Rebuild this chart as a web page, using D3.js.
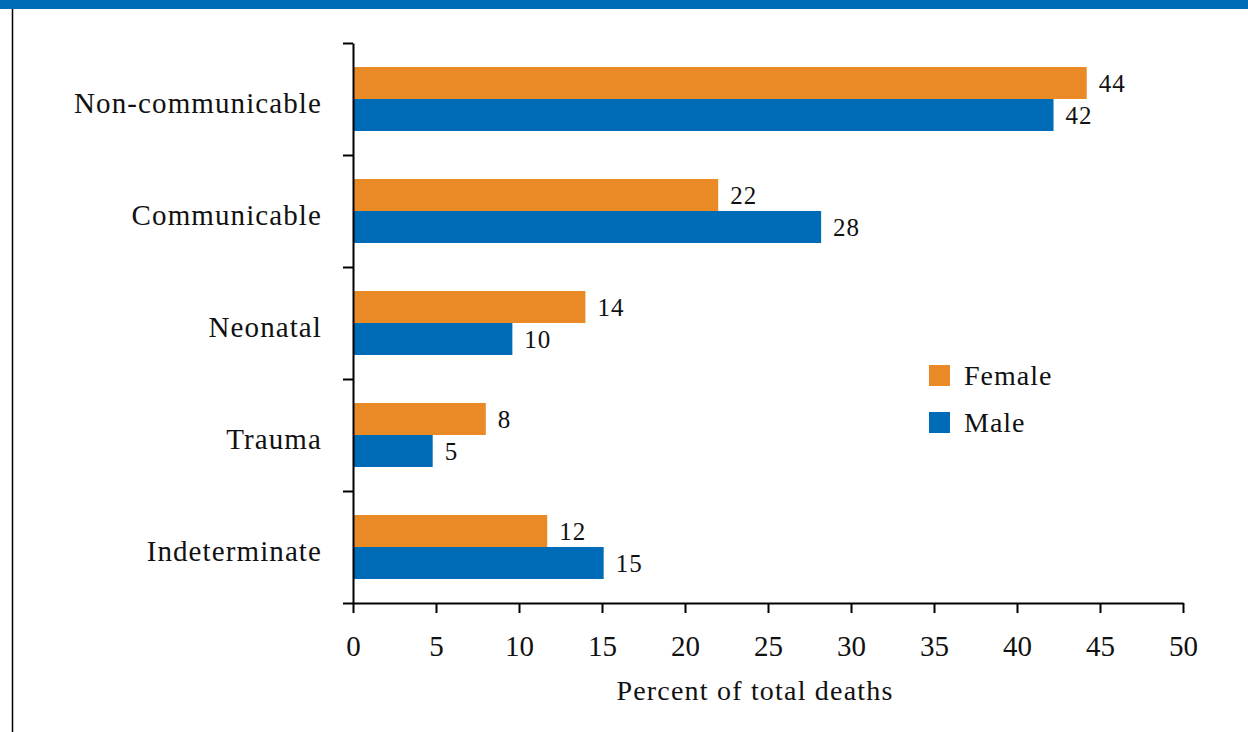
<!DOCTYPE html>
<html>
<head>
<meta charset="utf-8">
<script src="https://cdn.jsdelivr.net/npm/d3@7"></script>
<style>
  body { margin: 0; background: #fff; }
  svg text { font-family: "Liberation Serif", "Times New Roman", serif; fill: #111; }
  .domain, .tick line { stroke: #000; stroke-width: 2; }
</style>
</head>
<body>
<svg id="chart" width="1248" height="732"></svg>
<script>
// data
var categories = ["Non-communicable", "Communicable", "Neonatal", "Trauma", "Indeterminate"];
var series = ["Female", "Male"];
var femaleValues = [44.2, 22.0, 14.0, 8.0, 11.7];
var maleValues = [42.2, 28.2, 9.6, 4.8, 15.1];
var femaleLabels = ["44", "22", "14", "8", "12"];
var maleLabels = ["42", "28", "10", "5", "15"];
var xTicks = [0, 5, 10, 15, 20, 25, 30, 35, 40, 45, 50];
var colors = { Female: "#EA8A26", Male: "#006BB6" };

var svg = d3.select("#chart");

// header strip and left frame line
svg.append("rect").attr("x", 0).attr("y", 0).attr("width", 1248).attr("height", 9).attr("fill", "#006BB6");
svg.append("line").attr("x1", 12.5).attr("x2", 12.5).attr("y1", 9).attr("y2", 732)
  .attr("stroke", "#000").attr("stroke-width", 1.5);

var plotLeft = 353, plotRight = 1183, plotTop = 43, plotBottom = 603;

var x = d3.scaleLinear().domain([0, 50]).range([plotLeft, plotRight]);
var y = d3.scaleBand().domain(categories).range([plotTop, plotBottom])
  .paddingInner(48 / 112).paddingOuter(24 / 112);
var ySub = d3.scaleBand().domain(series).range([0, y.bandwidth()]);
var yEdge = d3.scaleLinear().domain([0, categories.length]).range([plotTop, plotBottom]);

var rows = categories.map(function(c, i) {
  return [
    { cat: c, key: "Female", value: femaleValues[i], label: femaleLabels[i] },
    { cat: c, key: "Male", value: maleValues[i], label: maleLabels[i] }
  ];
});

var groups = svg.append("g").selectAll("g").data(rows).enter()
  .append("g")
  .attr("transform", function(d) { return "translate(0," + y(d[0].cat) + ")"; });

groups.selectAll("rect").data(function(d) { return d; }).enter()
  .append("rect")
  .attr("x", x(0))
  .attr("y", function(d) { return ySub(d.key); })
  .attr("width", function(d) { return x(d.value) - x(0); })
  .attr("height", ySub.bandwidth())
  .attr("fill", function(d) { return colors[d.key]; });

groups.selectAll("text").data(function(d) { return d; }).enter()
  .append("text")
  .attr("x", function(d) { return x(d.value) + 12; })
  .attr("y", function(d) { return ySub(d.key) + ySub.bandwidth() / 2 + 9; })
  .style("font-size", "25px")
  .style("letter-spacing", "1px")
  .text(function(d) { return d.label; });

// category labels
svg.append("g").selectAll("text").data(categories).enter()
  .append("text")
  .attr("x", 322)
  .attr("y", function(d) { return y(d) + y.bandwidth() / 2 + 14; })
  .attr("text-anchor", "end")
  .style("font-size", "29px")
  .style("letter-spacing", "1.1px")
  .text(function(d) { return d; });

// y axis: ticks at category boundaries
svg.append("g")
  .attr("transform", "translate(" + plotLeft + ",0)")
  .call(d3.axisLeft(yEdge).tickValues(d3.range(categories.length + 1)).tickSize(10).tickSizeOuter(0).tickFormat(""));

// x axis
var xAxis = svg.append("g")
  .attr("transform", "translate(0," + plotBottom + ")")
  .call(d3.axisBottom(x).tickValues(xTicks).tickSize(10).tickSizeOuter(0).tickPadding(22));
xAxis.selectAll("text").style("font-size", "29px").attr("dy", "0.71em");

svg.append("text")
  .attr("x", (plotLeft + plotRight) / 2 - 13)
  .attr("y", 700)
  .attr("text-anchor", "middle")
  .style("font-size", "28px")
  .style("letter-spacing", "1.2px")
  .text("Percent of total deaths");

// legend
var legend = svg.append("g").selectAll("g").data(series).enter()
  .append("g")
  .attr("transform", function(d, i) { return "translate(929," + (365 + i * 47) + ")"; });
legend.append("rect").attr("width", 21).attr("height", 21)
  .attr("fill", function(d) { return colors[d]; });
legend.append("text").attr("x", 35).attr("y", 20)
  .style("font-size", "28px")
  .style("letter-spacing", "1px")
  .text(function(d) { return d; });
</script>
</body>
</html>
